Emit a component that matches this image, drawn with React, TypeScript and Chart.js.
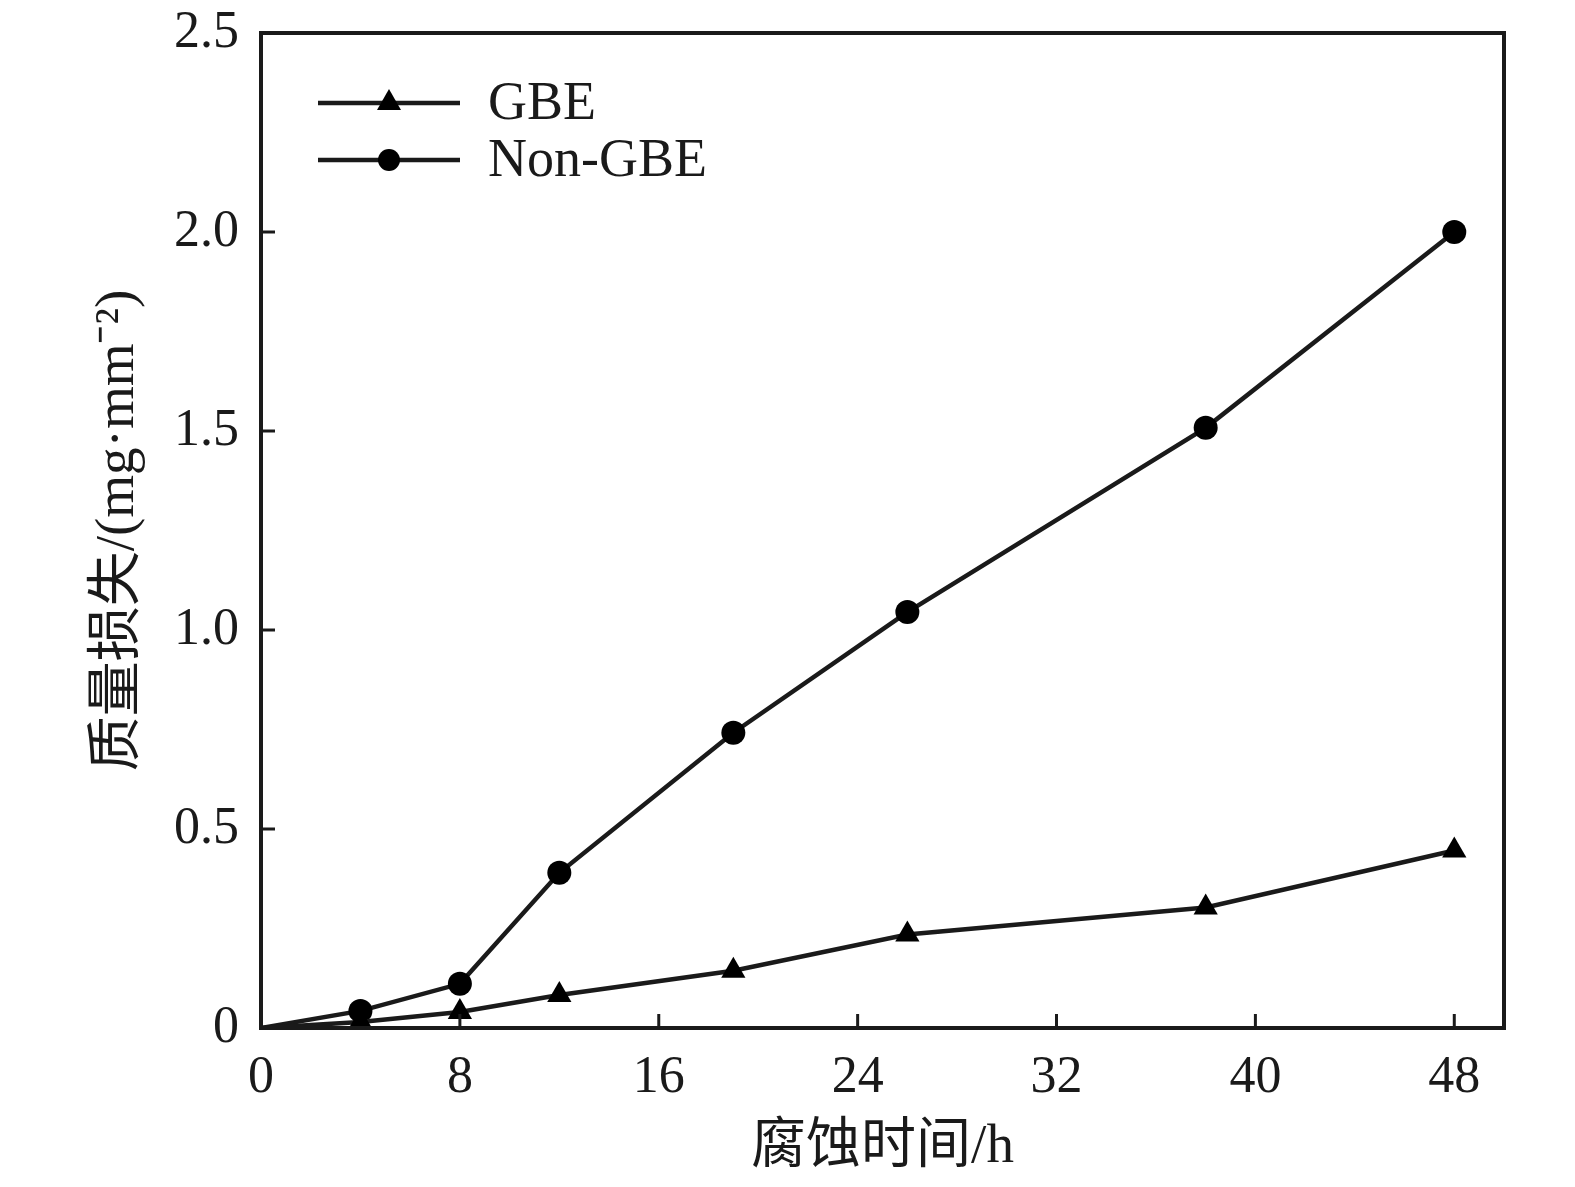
import React, { useEffect, useRef } from 'react';
import Chart from 'chart.js/auto';

// 腐蚀时间 (h)
const hours = [0, 4, 8, 12, 19, 26, 38, 48];
// 质量损失 (mg·mm⁻²)
const gbeLoss = [0, 0.015, 0.04, 0.083, 0.144, 0.235, 0.303, 0.446];
const nonGbeLoss = [0, 0.043, 0.111, 0.39, 0.742, 1.045, 1.508, 2.0];
const seriesNames = ['GBE', 'Non-GBE'];
const xTicks = [0, 8, 16, 24, 32, 40, 48];

const SERIF = '"Liberation Serif", "Times New Roman", "Noto Sans CJK SC", serif';
const INK = '#1a1a1a';

const boxAndTicks = {
  id: 'boxAndTicks',
  afterDraw(chart: any) {
    const { ctx, chartArea } = chart;
    const { left, right, top, bottom } = chartArea;
    const x = chart.scales.x;
    const y = chart.scales.y;
    ctx.save();
    ctx.strokeStyle = INK;
    ctx.lineWidth = 3;
    x.ticks.forEach((t: any) => {
      const px = x.getPixelForValue(t.value);
      if (px <= left + 2 || px >= right - 2) return;
      ctx.beginPath();
      ctx.moveTo(px, bottom);
      ctx.lineTo(px, bottom - 14);
      ctx.stroke();
    });
    y.ticks.forEach((t: any) => {
      const py = y.getPixelForValue(t.value);
      if (py <= top + 2 || py >= bottom - 2) return;
      ctx.beginPath();
      ctx.moveTo(left, py);
      ctx.lineTo(left + 14, py);
      ctx.stroke();
    });
    ctx.lineWidth = 4;
    ctx.strokeRect(left, top, right - left, bottom - top);
    ctx.restore();
  },
};

const lineLegend = {
  id: 'lineLegend',
  afterDraw(chart: any) {
    const { ctx } = chart;
    ctx.save();
    chart.data.datasets.forEach((ds: any, i: number) => {
      const cy = 103 + i * 57;
      ctx.strokeStyle = INK;
      ctx.lineWidth = 4.5;
      ctx.beginPath();
      ctx.moveTo(318, cy);
      ctx.lineTo(460, cy);
      ctx.stroke();
      ctx.fillStyle = '#000';
      ctx.beginPath();
      if (ds.pointStyle === 'triangle') {
        ctx.moveTo(389, cy - 14);
        ctx.lineTo(401, cy + 7);
        ctx.lineTo(377, cy + 7);
        ctx.closePath();
      } else {
        ctx.arc(389, cy, 11, 0, Math.PI * 2);
      }
      ctx.fill();
      ctx.fillStyle = INK;
      ctx.font = `54px ${SERIF}`;
      ctx.textAlign = 'left';
      ctx.textBaseline = 'middle';
      ctx.fillText(ds.label, 488, cy + 2);
    });
    ctx.restore();
  },
};

const App = () => {
  const canvasRef = useRef<HTMLCanvasElement>(null);

  useEffect(() => {
    document.body.style.margin = '0';
    const canvas = canvasRef.current;
    let chart: Chart | null = null;

    if (canvas) {
      chart = new Chart(canvas, {
        type: 'line',
        data: {
          datasets: [
            {
              label: seriesNames[0],
              data: hours.map((h, i) => ({ x: h, y: gbeLoss[i] })),
              borderColor: INK,
              backgroundColor: '#000',
              borderWidth: 4.5,
              pointStyle: 'triangle',
              pointRadius: (c: any) => (c.dataIndex === 0 ? 0 : 14),
              pointBorderWidth: 0,
            },
            {
              label: seriesNames[1],
              data: hours.map((h, i) => ({ x: h, y: nonGbeLoss[i] })),
              borderColor: INK,
              backgroundColor: '#000',
              borderWidth: 4.5,
              pointStyle: 'circle',
              pointRadius: (c: any) => (c.dataIndex === 0 ? 0 : 12),
              pointBorderWidth: 0,
            },
          ],
        },
        options: {
          animation: false,
          responsive: true,
          maintainAspectRatio: false,
          layout: { padding: { left: 0, top: 33, right: 71, bottom: 0 } },
          plugins: {
            legend: { display: false },
            tooltip: { enabled: false },
          },
          scales: {
            x: {
              type: 'linear',
              min: 0,
              max: 50,
              afterBuildTicks: (s: any) => {
                s.ticks = xTicks.map((v) => ({ value: v }));
              },
              afterFit: (s: any) => {
                s.height = 159;
              },
              grid: { display: false, drawTicks: false },
              border: { display: false },
              ticks: {
                padding: 19,
                color: INK,
                font: { family: SERIF, size: 52 },
                maxRotation: 0,
              },
              title: {
                display: true,
                text: '腐蚀时间/h',
                color: INK,
                font: { family: SERIF, size: 55 },
                padding: { top: 0, bottom: 6 },
              },
            },
            y: {
              min: 0,
              max: 2.5,
              afterFit: (s: any) => {
                s.width = 261;
                s.paddingTop = 0;
                s.paddingBottom = 0;
              },
              grid: { display: false, drawTicks: false },
              border: { display: false },
              ticks: {
                stepSize: 0.5,
                padding: 22,
                color: INK,
                font: { family: SERIF, size: 52 },
                callback: (v: any) => (Number(v) === 0 ? '0' : Number(v).toFixed(1)),
              },
              title: {
                display: true,
                text: '质量损失/(mg·mm⁻²)',
                color: INK,
                font: { family: SERIF, size: 55 },
                padding: { top: 86, bottom: 0 },
              },
            },
          },
        },
        plugins: [boxAndTicks, lineLegend],
      });
    }

    return () => {
      if (chart) {
        chart.destroy();
      }
    };
  }, []);

  return (
    <div style={{ width: 1575, height: 1187, background: '#fff' }}>
      <canvas ref={canvasRef}></canvas>
    </div>
  );
};

export default App;
